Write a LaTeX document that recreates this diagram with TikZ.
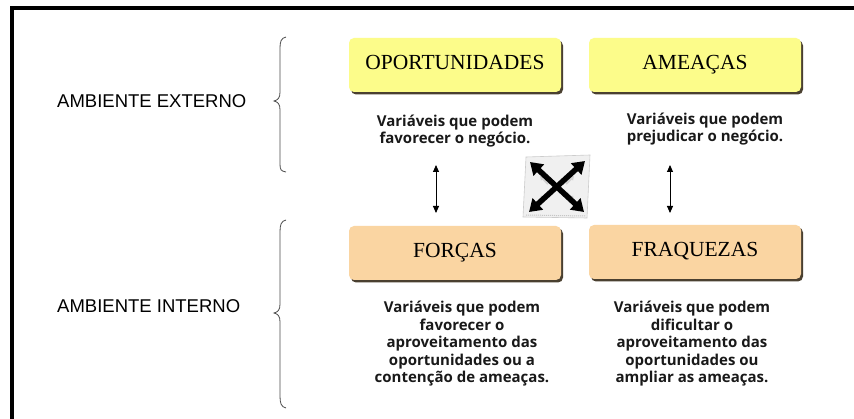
\documentclass[tikz,border=0pt]{standalone}
\usepackage{fontspec}
\setmainfont{Liberation Serif}
\setsansfont{Liberation Sans}
\newfontfamily\descfont{Open Sans}
\usetikzlibrary{shadows,arrows.meta}
\definecolor{oppyellow}{HTML}{FCFC8A}
\definecolor{intpeach}{HTML}{FAD5A2}
\definecolor{shadowc}{HTML}{4A4030}
\tikzset{
  swotbox/.style={draw=none, rounded corners=5pt, minimum width=212pt, minimum height=54pt,
    inner sep=0pt, text height=15pt, text depth=5pt, font=\fontsize{21.5}{24}\selectfont,
    drop shadow={shadow xshift=2pt, shadow yshift=-2.5pt, fill=shadowc, opacity=1}},
  extbox/.style={swotbox, fill=oppyellow},
  intbox/.style={swotbox, fill=intpeach},
  desc/.style={align=center, font=\descfont\bfseries\fontsize{15}{17.5}\selectfont, text=black!90, inner sep=0pt},
  envlabel/.style={font=\sffamily\fontsize{18.5}{20}\selectfont, anchor=west, inner sep=0pt},
  bracel/.style={draw=black!70, line width=0.8pt},
  dblarrow/.style={{Triangle[length=7pt,width=6pt]}-{Triangle[length=7pt,width=6pt]}, line width=0.9pt},
  frame/.style={line width=4pt, line join=miter}
}
\begin{document}
\begin{tikzpicture}[x=1pt,y=-1pt]
\useasboundingbox (0,0) rectangle (854,419);
\fill[white] (0,0) rectangle (854,419);
% frame
\draw[frame] (12,419) -- (12,8.5) -- (854,8.5);
% environment labels
\node[envlabel] (ext) at (57,101) {AMBIENTE EXTERNO};
\node[envlabel] (int) at (57,306) {AMBIENTE INTERNO};
% braces
\draw[bracel] (286,37) .. controls (281,38) and (280,42) .. (280,48) -- (280,92)
  .. controls (280,98) and (278,100) .. (274,101) .. controls (278,102) and (280,104) .. (280,110)
  -- (280,164) .. controls (280,170) and (281,171) .. (286,172);
\draw[bracel] (286,220) .. controls (281,221) and (280,225) .. (280,232) -- (280,304)
  .. controls (280,310) and (278,312) .. (274,313) .. controls (278,314) and (280,316) .. (280,322)
  -- (280,396) .. controls (280,403) and (281,407) .. (286,408);
% boxes
\node[extbox] (opp) at (455,65) {OPORTUNIDADES};
\node[extbox] (ame) at (695,65) {AMEAÇAS};
\node[intbox] (for) at (455,253) {FORÇAS};
\node[intbox] (fra) at (695,252) {FRAQUEZAS};
% descriptions
\node[desc] (oppd) at (455,131) {Variáveis que podem\\favorecer o negócio.};
\node[desc] (amed) at (705,129) {Variáveis que podem\\prejudicar o negócio.};
\node[desc] (ford) at (462,344) {Variáveis que podem\\favorecer o\\aproveitamento das\\oportunidades ou a\\contenção de ameaças.};
\node[desc] (frad) at (692,344) {Variáveis que podem\\dificultar o\\aproveitamento das\\oportunidades ou\\ampliar as ameaças.};
% double arrows
\coordinate (la1) at (436,165);
\coordinate (la2) at (436,213);
\coordinate (ra1) at (670,165);
\coordinate (ra2) at (670,213);
\draw[dblarrow] (la1) -- (la2);
\draw[dblarrow] (ra1) -- (ra2);
% X icon
\filldraw[fill=gray!12, draw=gray!40, line width=0.6pt] (526,157) -- (590,155) -- (587,218) -- (523,217) -- cycle;
\draw[gray!45, line width=1pt, densely dotted] (526,215) -- (585,216);
\draw[gray!35, line width=2pt, -{Triangle[length=4pt,width=5pt]}] (548,184) -- (540,176);
\draw[gray!35, line width=2pt, -{Triangle[length=4pt,width=5pt]}] (566,184) -- (574,176);
\draw[gray!35, line width=2pt, -{Triangle[length=4pt,width=5pt]}] (548,192) -- (540,200);
\draw[gray!35, line width=2pt, -{Triangle[length=4pt,width=5pt]}] (566,192) -- (574,200);
\draw[black, line width=5.5pt, {Triangle[length=12pt,width=15pt]}-{Triangle[length=12pt,width=15pt]}] (530,162) -- (584,212);
\draw[black, line width=5.5pt, {Triangle[length=12pt,width=15pt]}-{Triangle[length=12pt,width=15pt]}] (585,161) -- (529,212);
\end{tikzpicture}
\end{document}
